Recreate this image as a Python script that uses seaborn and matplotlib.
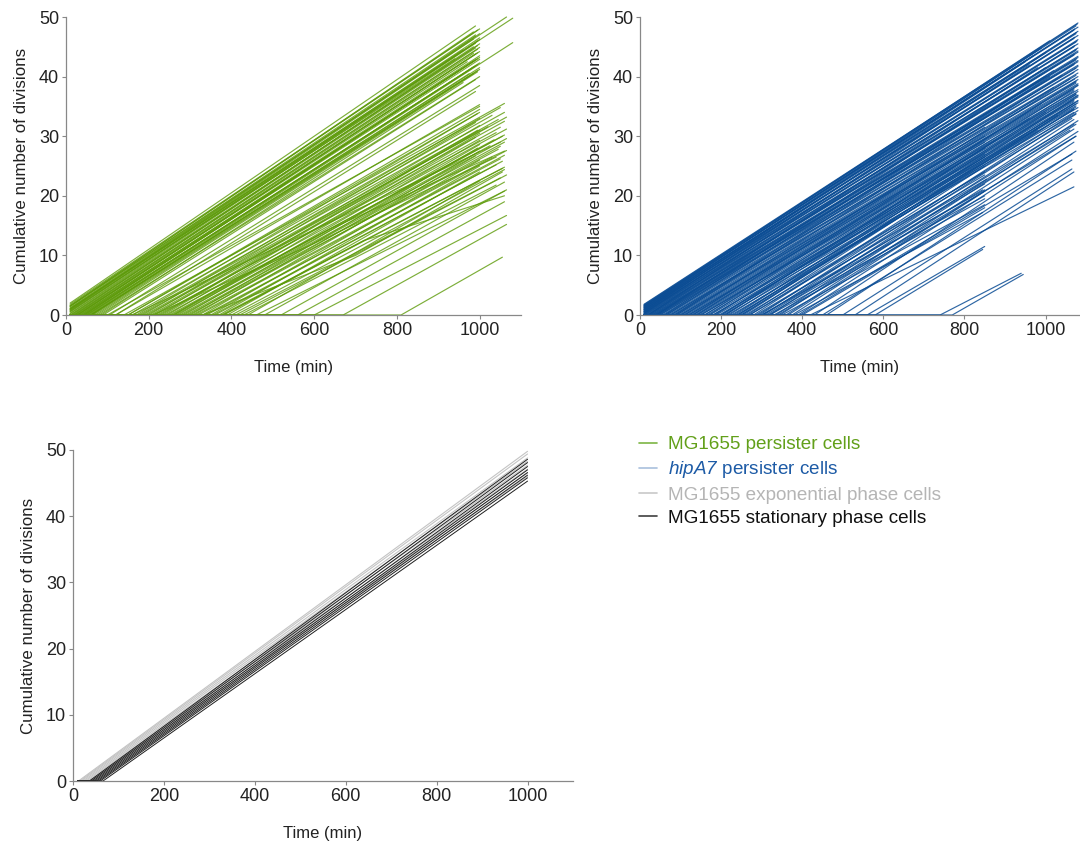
import numpy as np
import pandas as pd
import matplotlib
matplotlib.use("Agg")
import matplotlib.pyplot as plt
from matplotlib.lines import Line2D
import seaborn as sns

# ---- data (one entry per cell lineage) ----
# each cell: first frame at FIRST_T with start_n, flat until lag, then straight to (end_t, end_n)
FIRST_T = 10

# MG1655 persister cells (green), fast-waking group
green_fast_start_n = [2.0, 1.8, 1.6, 1.5, 1.4, 1.2, 1.0, 0.9, 0.8, 0.6, 0.5, 0.3, 0.2, 0, 0, 0, 0, 0, 0, 0,
                      0, 0, 0, 0, 0, 0, 0, 0, 0, 0, 0, 0, 0, 0, 0, 0, 0, 0, 0, 0,
                      1.5, 1.0, 0, 1.1, 0.7, 0, 0, 0, 0, 0]
green_fast_lag = [10, 10, 10, 10, 10, 10, 10, 10, 10, 10, 10, 10, 10, 10, 12, 15, 18, 20, 22, 25,
                  28, 30, 33, 35, 38, 40, 42, 45, 48, 50, 52, 55, 58, 60, 65, 70, 75, 80, 90, 105,
                  10, 10, 60, 10, 10, 27, 44, 62, 85, 120]
green_fast_end_t = [990, 995, 1000, 985, 990, 1000, 990, 985, 1000, 1000, 995, 990, 995, 1000, 990, 985, 1000, 995, 985, 1000,
                    995, 990, 1000, 1000, 990, 995, 1000, 985, 995, 1000, 985, 990, 1000, 1000, 995, 985, 995, 1000, 990, 1000,
                    1065, 1080, 1080, 960, 940, 970, 950, 975, 960, 990]
green_fast_end_n = [48.5, 47.8, 48.0, 47.5, 47.0, 47.2, 46.8, 46.3, 46.5, 46.2, 46.0, 45.6, 45.2, 45.5, 44.8, 45.0, 44.9, 44.6, 43.9, 44.2,
                    44.0, 43.8, 43.2, 43.5, 42.8, 43.0, 42.9, 42.6, 42.0, 42.3, 41.6, 41.8, 41.2, 41.5, 41.0, 40.5, 40.8, 40.0, 39.5, 38.5,
                    50.0, 49.8, 45.7, 44.5, 43.0, 42.5, 41.0, 40.5, 39.0, 37.5]

# MG1655 persister cells (green), late-waking group (start at 0)
green_slow_lag = [100, 120, 140, 150, 160, 170, 180, 185, 195, 200, 210, 215, 225, 230, 240, 245, 250, 260, 265, 270,
                  280, 285, 290, 300, 305, 310, 320, 330, 340, 350, 360, 370, 380, 390, 400, 420, 440, 150, 235, 175,
                  190, 205, 220, 255, 275, 295, 315, 335, 355, 375, 410, 430, 460,
                  480, 520, 560, 600, 670, 810]
green_slow_end_t = [1000, 1000, 1060, 1000, 1050, 995, 1060, 1000, 1065, 990, 1060, 1000, 1050, 995, 1065, 1000, 1060, 990, 1055, 1000,
                    1065, 1000, 1060, 995, 1050, 1000, 1065, 990, 1060, 1000, 1055, 1000, 1060, 1000, 1060, 1065, 1000, 1000, 1000, 1030,
                    1045, 1020, 1040, 1035, 1025, 1045, 1030, 1050, 1040, 1055, 1050, 1040, 1060,
                    1060, 1065, 1060, 1065, 1065, 1055]
green_slow_end_n = [35.0, 35.3, 35.5, 34.5, 34.8, 33.8, 34.0, 33.0, 33.2, 32.3, 32.5, 31.8, 31.5, 31.0, 31.2, 30.5, 30.2, 29.8, 30.0, 29.3,
                    29.6, 28.6, 29.0, 28.0, 28.3, 27.5, 27.6, 26.7, 26.8, 26.0, 25.8, 25.0, 24.8, 24.0, 24.4, 23.5, 22.5, 34.0, 31.0, 33.5,
                    32.8, 31.6, 30.6, 29.4, 28.4, 27.8, 26.5, 26.2, 25.2, 24.6, 23.0, 21.8, 20.8,
                    22.3, 21.0, 19.0, 16.7, 15.2, 9.7]

# green cells whose division rate changes once (lag, bend time, count at bend, end time, end count)
green_bend_lag = [160, 210, 260, 330, 380]
green_bend_t = [560, 600, 640, 700, 720]
green_bend_n = [13.0, 12.0, 14.5, 10.0, 12.5]
green_bend_end_t = [1050, 1040, 1060, 1055, 1060]
green_bend_end_n = [29.0, 26.5, 27.5, 24.0, 20.0]

# hipA7 persister cells (blue)
blue_start_n = [1.8, 1.7, 1.6, 1.5, 1.4, 1.3, 1.2, 1.1, 1.0, 0.9, 0.8, 0.7, 0.6, 0.5, 0.4, 0.3, 0.2, 0.1, 0, 0,
                0, 0, 0, 0, 0, 0, 0, 0, 0, 0, 0, 0, 0, 0, 0, 0, 0, 0, 0, 0,
                0, 0, 0, 0, 0, 0, 0, 0, 0, 0, 0, 0, 0, 0, 0, 0, 0, 0, 0, 0,
                0, 0, 0, 0, 0, 0, 0, 0, 0, 0, 0, 0, 0, 0, 0, 0, 0, 0, 0, 0,
                0, 0, 0, 0, 0, 0, 0, 0, 0, 0, 0, 0, 0, 0, 0, 0,
                1.5, 1.2, 0.9, 0.6, 0.3, 0, 0, 0, 0, 0, 0, 0, 0, 0, 0, 0, 0, 0, 0, 0,
                0, 0, 0, 0, 0, 0, 0, 0, 0, 0, 0, 0, 0, 0, 0, 0, 0, 0, 0, 0]
blue_lag = [10, 10, 10, 10, 10, 10, 10, 10, 10, 10, 10, 10, 10, 10, 10, 10, 10, 10, 10, 12,
            15, 18, 20, 23, 25, 28, 30, 33, 35, 38, 40, 43, 45, 48, 50, 55, 60, 65, 70, 75,
            80, 85, 90, 95, 100, 105, 110, 115, 120, 125, 130, 135, 140, 145, 150, 158, 165, 172, 180, 188,
            195, 205, 215, 225, 60, 90, 130, 170, 210, 250, 230, 250, 270, 290, 310, 240, 260, 300, 320, 330,
            350, 365, 380, 400, 430, 460, 500, 530, 560, 580, 740, 770, 340, 395, 420, 450,
            10, 10, 10, 10, 10, 20, 40, 65, 85, 110, 140, 160, 185, 200, 220, 235, 245, 255, 265, 280,
            295, 305, 320, 335, 345, 360, 375, 390, 270, 285, 300, 315, 200, 180, 150, 120, 100, 75, 210, 240]
blue_end_t = [1080, 1078, 1075, 1080, 1072, 1070, 1080, 1076, 1075, 1080, 1072, 1070, 1080, 1078, 1075, 1080, 1072, 1070, 1080, 1076,
              1075, 1080, 1080, 1072, 1070, 1080, 1080, 1076, 1075, 1080, 1080, 1072, 1070, 1080, 1080, 1075, 1080, 1070, 1080, 1075,
              1080, 1072, 1080, 1075, 1075, 1080, 1080, 1070, 1070, 1080, 1080, 1075, 1075, 1080, 1080, 1070, 1070, 1080, 1080, 1075,
              1075, 1080, 1070, 1075, 1000, 1010, 1020, 990, 1000, 1030, 1070, 1070, 1065, 1070, 1060, 850, 850, 850, 850, 850,
              850, 850, 845, 850, 1070, 1075, 1065, 1070, 850, 845, 940, 945, 1075, 1065, 1070, 1065,
              1010, 990, 970, 950, 1000, 960, 980, 1020, 1000, 1040, 1060, 1075, 1080, 1070, 1075, 1080, 1070, 1080, 1075, 1070,
              1080, 1075, 1070, 1080, 1075, 1070, 1080, 1075, 850, 855, 850, 845, 850, 850, 850, 850, 850, 850, 960, 980]
blue_end_n = [49.0, 48.8, 48.5, 48.3, 48.0, 47.8, 47.6, 47.4, 47.2, 46.9, 46.6, 46.4, 46.2, 46.0, 45.8, 45.5, 45.2, 45.0, 44.8, 44.6,
              44.4, 44.3, 44.1, 43.8, 43.6, 43.4, 43.2, 43.0, 42.8, 42.7, 42.5, 42.2, 42.0, 41.9, 41.7, 41.4, 41.2, 40.7, 40.6, 40.2,
              40.0, 39.6, 39.5, 39.1, 38.9, 38.8, 38.6, 38.0, 37.8, 37.8, 37.5, 37.2, 37.0, 36.9, 36.6, 36.0, 35.8, 35.9, 35.6, 35.1,
              34.9, 34.8, 34.0, 33.8, 41.5, 40.0, 38.2, 35.5, 34.0, 33.5, 35.5, 34.5, 33.0, 32.0, 31.0, 25.0, 24.0, 21.0, 20.0, 19.5,
              18.5, 20.8, 17.2, 18.0, 29.0, 27.5, 24.5, 24.0, 11.5, 11.0, 7.0, 6.8, 30.0, 27.0, 21.5, 26.0,
              46.0, 44.8, 43.5, 42.5, 44.0, 42.0, 41.5, 41.0, 40.0, 40.2, 39.6, 39.2, 38.5, 37.6, 37.0, 36.8, 36.2, 36.0, 35.4, 34.6,
              34.3, 33.7, 32.8, 32.6, 32.0, 31.2, 30.8, 30.0, 23.5, 22.8, 22.0, 21.0, 26.5, 27.0, 28.0, 29.0, 30.0, 31.5, 33.0, 31.0]

# MG1655 exponential (grey) and stationary (black) phase cells, all end at 1000 min
grey_lag = [12, 15, 18, 22, 26, 30, 34, 38]
grey_end_n = [49.8, 49.4, 48.8, 48.3, 47.7, 47.1, 46.5, 46.0]
black_lag = [36, 40, 44, 48, 52, 56, 60, 66]
black_end_n = [48.6, 48.1, 47.5, 47.0, 46.6, 46.2, 45.8, 45.3]
END_T_STAT = 1000

legend_labels = ["MG1655 persister cells", r"$\mathrm{hipA7}$ persister cells",
                 "MG1655 exponential phase cells", "MG1655 stationary phase cells"]


def lineages(start_n, lag, end_t, end_n, first_id=0):
    rows = []
    for i, (n0, l, t1, n1) in enumerate(zip(start_n, lag, end_t, end_n)):
        rows.append((first_id + i, FIRST_T, n0))
        if l > FIRST_T:
            rows.append((first_id + i, l, n0))
        rows.append((first_id + i, t1, n1))
    return pd.DataFrame(rows, columns=["cell", "time", "divisions"])


def bent_lineages(lag, bend_t, bend_n, end_t, end_n, first_id=0):
    rows = []
    for i, (l, tb, nb, t1, n1) in enumerate(zip(lag, bend_t, bend_n, end_t, end_n)):
        for t, n in [(FIRST_T, 0), (l, 0), (tb, nb), (t1, n1)]:
            rows.append((first_id + i, t, n))
    return pd.DataFrame(rows, columns=["cell", "time", "divisions"])


green_df = pd.concat([
    lineages(green_fast_start_n, green_fast_lag, green_fast_end_t, green_fast_end_n, 0),
    lineages([0] * len(green_slow_lag), green_slow_lag, green_slow_end_t, green_slow_end_n, 1000),
    bent_lineages(green_bend_lag, green_bend_t, green_bend_n, green_bend_end_t, green_bend_end_n, 2000),
])
blue_df = lineages(blue_start_n, blue_lag, blue_end_t, blue_end_n)
grey_df = lineages([0] * len(grey_lag), grey_lag, [END_T_STAT] * len(grey_lag), grey_end_n)
black_df = lineages([0] * len(black_lag), black_lag, [END_T_STAT] * len(black_lag), black_end_n)

sns.set_style("ticks")
plt.rcParams["font.family"] = ["Liberation Sans", "DejaVu Sans"]
plt.rcParams["mathtext.fontset"] = "custom"
plt.rcParams["mathtext.rm"] = "Liberation Sans:italic"
plt.rcParams["mathtext.it"] = "Liberation Sans:italic"

GREEN = "#5c9a08"
BLUE = "#0a4c94"
GREY = "#c4c4c4"
BLACK = "#1e1e1e"

fig = plt.figure(figsize=(10.8, 8.5), dpi=100)
ax1 = fig.add_axes([66 / 1080, 1 - 315 / 850, 455 / 1080, 298 / 850])
ax2 = fig.add_axes([640 / 1080, 1 - 315 / 850, 440 / 1080, 298 / 850])
ax3 = fig.add_axes([73 / 1080, 1 - 781 / 850, 500 / 1080, 331 / 850])


def draw(ax, df, color, lw, alpha):
    sns.lineplot(data=df, x="time", y="divisions", units="cell", estimator=None,
                 sort=False, color=color, lw=lw, alpha=alpha, ax=ax, legend=False)


draw(ax1, green_df, GREEN, 0.85, 0.8)
draw(ax2, blue_df, BLUE, 0.85, 0.85)
draw(ax3, grey_df, GREY, 0.8, 1.0)
draw(ax3, black_df, BLACK, 0.7, 1.0)

for ax, xmax in [(ax1, 1100), (ax2, 1085), (ax3, 1100)]:
    for ln in ax.lines:
        ln.set_clip_on(False)
    ax.set_xlim(0, xmax)
    ax.set_ylim(0, 50)
    ax.set_xticks([0, 200, 400, 600, 800, 1000])
    ax.set_yticks([0, 10, 20, 30, 40, 50])
    sns.despine(ax=ax)
    for s in ["left", "bottom"]:
        ax.spines[s].set_color("#888888")
        ax.spines[s].set_linewidth(0.9)
    ax.tick_params(axis="both", colors="#888888", labelcolor="#222222",
                   labelsize=13, length=3, width=0.8, pad=2)
    ax.set_xlabel("Time (min)", fontsize=12, color="#222222", labelpad=15)
    ax.set_ylabel("Cumulative number of divisions", fontsize=12.2, color="#222222", labelpad=7)

handles = [Line2D([], [], color=c, lw=1.2) for c in ["#7db544", "#a9c0dd", "#c8c8c8", "#404040"]]
leg = fig.legend(handles, legend_labels, loc="upper left", bbox_to_anchor=(622 / 1080, 1 - 419 / 850),
                 frameon=False, fontsize=13.6, handlelength=0.95, handletextpad=0.6, labelspacing=0.32)
for txt, c in zip(leg.get_texts(), ["#62a01a", "#1d5ba6", "#b5b5b5", "#111111"]):
    txt.set_color(c)

fig.savefig("out.png", dpi=100)
